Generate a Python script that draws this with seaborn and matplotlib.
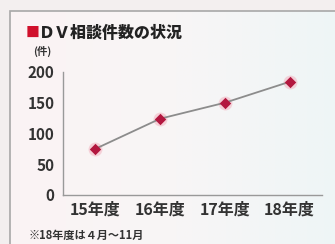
import numpy as np
import pandas as pd
import seaborn as sns
import matplotlib.pyplot as plt
from matplotlib.patches import Rectangle
from matplotlib.colors import LinearSegmentedColormap

# data
years = ["15年度", "16年度", "17年度", "18年度"]
counts = [75, 124, 150, 184]
yticks = [0, 50, 100, 150, 200]

df = pd.DataFrame({"year": years, "count": counts})

sns.set_style("white")
plt.rcParams['font.family'] = ['Noto Sans CJK JP', 'DejaVu Sans']

fig = plt.figure(figsize=(3.35, 2.44), dpi=100)
fig.patch.set_facecolor("#f3efef")
# inner panel frame with a soft pink-to-blue wash, on a background axes
bg = fig.add_axes([0, 0, 1, 1], zorder=-5)
bg.set_axis_off()
bg.set_xlim(0, 1)
bg.set_ylim(0, 1)
wash = LinearSegmentedColormap.from_list("wash", ["#fbf3f4", "#f8f6f6", "#eef5f6"])
grad = np.tile(np.linspace(0, 1, 200), (10, 1))
panel = Rectangle((0.03, -0.02), 0.99, 0.975, facecolor="none",
                  edgecolor="#a8a8a8", lw=1.2, zorder=3)
img = bg.imshow(grad, cmap=wash, extent=[0.03, 1.02, -0.02, 0.955], aspect="auto", zorder=1)
bg.add_patch(panel)
img.set_clip_path(panel)

ax = fig.add_axes([0.188, 0.201, 0.773, 0.504])
ax.set_facecolor("none")

x = np.arange(len(years))
# pink halo behind markers
ax.scatter(x, counts, s=100, color="#f3b8c4", alpha=0.6, zorder=2, linewidths=0)
sns.lineplot(x=x, y=df["count"], ax=ax, color="#8c8c8c", lw=1.3, zorder=3)
ax.scatter(x, counts, marker="D", s=34, color="#b3173f", zorder=4, linewidths=0)

ax.set_xlim(-0.5, 3.5)
ax.set_ylim(0, 200)
ax.set_yticks(yticks)
ax.set_yticklabels([str(v) for v in yticks], fontsize=11, fontweight="bold", color="#333333")
ax.set_xticks(x)
ax.set_xticklabels(years, fontsize=11.5, fontweight="bold", color="#333333")
ax.set_xticks([-0.5, 0.5, 1.5, 2.5, 3.5], minor=True)
ax.tick_params(axis="x", which="major", length=0, pad=5)
ax.tick_params(axis="x", which="minor", length=3, direction="in", color="#999999")
ax.tick_params(axis="y", length=4, direction="out", color="#999999", pad=2)
ax.set_xlabel("")
ax.set_ylabel("")
for s in ["top", "right"]:
    ax.spines[s].set_visible(False)
for s in ["left", "bottom"]:
    ax.spines[s].set_color("#999999")
    ax.spines[s].set_linewidth(1.0)

fig.text(0.075, 0.865, "■", color="#d0102c", fontsize=10, va="center")
fig.text(0.115, 0.865, "ＤＶ相談件数の状況", color="#222222", fontsize=11.5,
         fontweight="heavy", va="center")
fig.text(0.098, 0.79, "(件)", color="#333333", fontsize=7.5, fontweight="bold", va="center")
fig.text(0.085, 0.035, "※18年度は４月〜11月", color="#333333", fontsize=8,
         fontweight="bold", va="center")

fig.savefig("out.png", dpi=100, facecolor=fig.get_facecolor())
